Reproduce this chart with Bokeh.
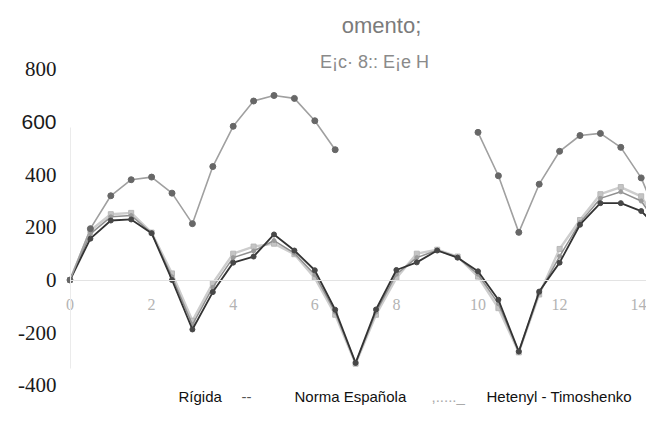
from bokeh.plotting import figure
from bokeh.models import ColumnDataSource, FixedTicker, LinearAxis
from bokeh.core.properties import value
from bokeh.embed import file_html
from bokeh.resources import INLINE

nan = float("nan")

# ---- data ----
x_vals = [0, 0.5, 1, 1.5, 2, 2.5, 3, 3.5, 4, 4.5, 5, 5.5, 6, 6.5, 7, 7.5,
          8, 8.5, 9, 9.5, 10, 10.5, 11, 11.5, 12, 12.5, 13, 13.5, 14, 14.5]

serie_superior = [0, 195, 320, 381, 391, 330, 214, 431, 584, 680, 701, 690, 605, 495,
                  nan, nan, nan, nan, nan, nan,
                  561, 396, 181, 364, 489, 549, 557, 504, 388, 203]

serie_oscura = [0, 157, 226, 230, 178, 0, -188, -46, 66, 89, 173, 112, 37, -113, -315,
                -112, 38, 67, 112, 85, 33, -75, -272, -44, 66, 210, 292, 292, 262, 184]

serie_media = [0, 175, 240, 245, 178, 12, -170, -28, 85, 110, 150, 102, 20, -122, -316,
               -122, 22, 85, 113, 87, 22, -90, -273, -50, 90, 218, 310, 335, 300, 190]

serie_clara = [0, 188, 250, 255, 180, 25, -155, -12, 100, 127, 138, 98, 8, -132, -318,
               -132, 8, 100, 115, 89, 13, -107, -275, -55, 118, 228, 326, 353, 318, 195]

x_ticks = [0, 2, 4, 6, 8, 10, 12, 14]
y_ticks_serif = [-400, -200, 0, 200, 400, 800]
y_labels_serif = ["-400", "-200", "0", "200", "400", "800"]
y_ticks_sans = [600]
y_labels_sans = ["600"]

title_1 = "omento;"
title_2 = "E¡c· 8:: E¡e H"
legend_texts = ["Rígida", "--", "Norma Española", ",....._", "Hetenyl - Timoshenko"]

SERIF = "Liberation Serif"
SANS = "Liberation Sans"

# ---- layout helpers: pixel in picture -> data coordinates ----
PX_PER_X = 40.8
X0_PX = 69.5
PX_PER_Y = 0.2632
Y0_PX = 279.5


def dx(px):
    return (px - X0_PX) / PX_PER_X


def dy(py):
    return (Y0_PX - py) / PX_PER_Y


W, H = 646, 405
p = figure(width=W, height=H, output_backend="svg", toolbar_location=None,
           x_range=(dx(0), dx(W)), y_range=(dy(H), dy(0)),
           min_border_left=0, min_border_right=0, min_border_top=0,
           min_border_bottom=0)
p.outline_line_color = None
p.xgrid.visible = False
p.ygrid.visible = False
p.background_fill_color = "white"
p.border_fill_color = "white"

# x axis across the zero line
p.xaxis.fixed_location = 0
p.xaxis.bounds = (0, 14.6)
p.xaxis.ticker = FixedTicker(ticks=x_ticks)
p.xaxis.axis_line_color = "#e3e3e3"
p.xaxis.axis_line_width = 1
p.xaxis.major_tick_line_color = None
p.xaxis.minor_tick_line_color = None
p.xaxis.major_label_text_font = SERIF
p.xaxis.major_label_text_font_size = "16px"
p.xaxis.major_label_text_color = "#b3b3b3"
p.xaxis.major_label_standoff = 13

# y axis: faint vertical line at x = 0, labels drawn as text to its left
p.yaxis.visible = False
vline = LinearAxis(fixed_location=0, bounds=(-335, 580), ticker=FixedTicker(ticks=[]),
                   axis_line_color="#ebebeb", major_tick_line_color=None,
                   minor_tick_line_color=None, major_label_text_font_size="0px")
p.add_layout(vline, "left")

lab_x = dx(56)
p.text(x=[lab_x] * len(y_ticks_serif), y=y_ticks_serif, text=y_labels_serif,
       text_align="right", text_baseline="middle", text_font=value(SERIF),
       text_font_size="21px", text_color="#1a1a1a")
p.text(x=[lab_x] * len(y_ticks_sans), y=y_ticks_sans, text=y_labels_sans,
       text_align="right", text_baseline="middle", text_font=value(SANS),
       text_font_size="21px", text_color="#1a1a1a")

src = ColumnDataSource(dict(x=x_vals, a=serie_superior, b=serie_oscura,
                            c=serie_media, d=serie_clara))

# light series
p.line("x", "d", source=src, line_color="#cdcdcd", line_width=2.4)
p.scatter("x", "d", source=src, marker="square", size=5, fill_color="#c4c4c4",
          line_color="#b8b8b8")
# medium series
p.line("x", "c", source=src, line_color="#8e8e8e", line_width=1.5)
p.scatter("x", "c", source=src, marker="circle", size=4, fill_color="#9a9a9a",
          line_color="#9a9a9a")
# dark series
p.line("x", "b", source=src, line_color="#333333", line_width=1.8)
p.scatter("x", "b", source=src, marker="circle", size=5, fill_color="#474747",
          line_color="#474747")
# upper series
p.line("x", "a", source=src, line_color="#a0a0a0", line_width=1.6)
p.scatter("x", "a", source=src, marker="circle", size=6, fill_color="#676767",
          line_color="#676767")

# titles
p.text(x=[dx(381)], y=[dy(25)], text=[title_1], text_align="center",
       text_baseline="middle", text_font=value(SANS), text_font_size="22px",
       text_color="#7b7b7b")
p.text(x=[dx(374)], y=[dy(61)], text=[title_2], text_align="center",
       text_baseline="middle", text_font=value(SANS), text_font_size="18px",
       text_color="#8a8a8a")

# legend row
legend_x = [178, 241, 294, 431, 486]
legend_col = ["#111111", "#555555", "#111111", "#aaaaaa", "#111111"]
p.text(x=[dx(v) for v in legend_x], y=[dy(396)] * len(legend_texts), text=legend_texts,
       text_align="left", text_baseline="middle", text_font=value(SANS),
       text_font_size="15px", text_color=legend_col)

open("out.html", "w").write(file_html(p, INLINE))
